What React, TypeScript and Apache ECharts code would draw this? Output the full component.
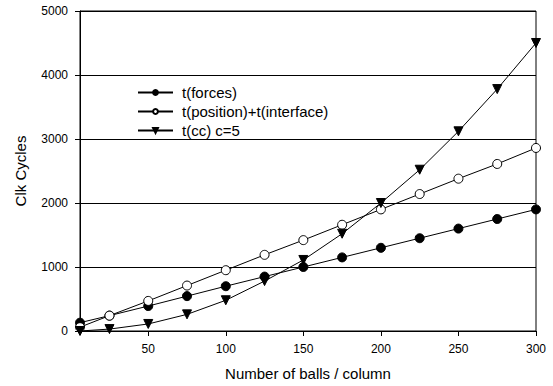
import React, { useEffect, useRef } from "react";
import * as echarts from "echarts";

const xValues = [6, 25, 50, 75, 100, 125, 150, 175, 200, 225, 250, 275, 300];
const forces = [130, 240, 390, 545, 700, 850, 1000, 1150, 1300, 1450, 1600, 1750, 1900];
const positionInterface = [60, 240, 470, 710, 950, 1190, 1420, 1660, 1900, 2140, 2380, 2610, 2860];
const ccValues = [0, 30, 110, 260, 480, 780, 1110, 1520, 2000, 2520, 3120, 3780, 4500];
const xTicks = [50, 100, 150, 200, 250, 300];
const seriesNames = ["t(forces)", "t(position)+t(interface)", "t(cc) c=5"];

const FONT = "'Liberation Sans', Arial, sans-serif";

export default function App() {
  const ref = useRef<HTMLDivElement>(null);
  useEffect(() => {
    if (!ref.current) return;
    const chart = echarts.init(ref.current, undefined, { renderer: "svg" });
    const pair = (ys: number[]) => xValues.map((x, i) => [x, ys[i]]);
    const lineStyle = { color: "#000", width: 1 };
    chart.setOption({
      animation: false,
      backgroundColor: "#fff",
      textStyle: { fontFamily: FONT, color: "#000" },
      grid: {
        left: 80,
        right: 17,
        top: 11,
        bottom: 55,
        show: true,
        borderColor: "#000",
        borderWidth: 1,
      },
      legend: {
        orient: "vertical",
        left: 132,
        top: 80,
        itemWidth: 35,
        itemHeight: 6,
        itemGap: 4,
        data: seriesNames,
        textStyle: { fontFamily: FONT, fontSize: 15, color: "#000", padding: [0, 0, 0, 4] },
      },
      xAxis: {
        type: "value",
        min: 6,
        max: 300,
        name: "Number of balls / column",
        nameLocation: "middle",
        nameGap: 35,
        nameTextStyle: { fontFamily: FONT, fontSize: 15, color: "#000" },
        axisLine: { lineStyle: { color: "#000", width: 1 } },
        axisTick: { show: true, length: 5, customValues: xTicks, lineStyle: { color: "#000" } },
        axisLabel: { customValues: xTicks, margin: 12, fontSize: 12, color: "#000", fontFamily: FONT },
        splitLine: { show: false },
      },
      yAxis: {
        type: "value",
        min: 0,
        max: 5000,
        interval: 1000,
        name: "Clk Cycles",
        nameLocation: "middle",
        nameGap: 52,
        nameTextStyle: { fontFamily: FONT, fontSize: 15, color: "#000" },
        axisLine: { show: true, lineStyle: { color: "#000", width: 1 } },
        axisTick: { show: true, length: 5, lineStyle: { color: "#000" } },
        axisLabel: {
          margin: 12,
          fontSize: 12,
          color: "#000",
          fontFamily: FONT,
          formatter: (v: number) => String(v),
        },
        splitLine: { show: true, lineStyle: { color: "#000", width: 1 } },
      },
      series: [
        {
          name: seriesNames[0],
          type: "line",
          data: pair(forces),
          symbol: "circle",
          symbolSize: 9,
          showAllSymbol: true,
          lineStyle,
          itemStyle: { color: "#000", borderColor: "#000", borderWidth: 1 },
          z: 3,
        },
        {
          name: seriesNames[1],
          type: "line",
          data: pair(positionInterface),
          symbol: "circle",
          symbolSize: 9,
          showAllSymbol: true,
          lineStyle,
          itemStyle: { color: "#fff", borderColor: "#000", borderWidth: 1 },
          z: 4,
        },
        {
          name: seriesNames[2],
          type: "line",
          data: pair(ccValues),
          symbol: "triangle",
          symbolRotate: 180,
          symbolSize: 9,
          showAllSymbol: true,
          lineStyle,
          itemStyle: { color: "#000", borderColor: "#000", borderWidth: 1 },
          z: 5,
        },
      ],
    });
    return () => chart.dispose();
  }, []);
  return (
    <div
      ref={ref}
      style={{ position: "fixed", left: 0, top: 0, width: 553, height: 386 }}
    />
  );
}
